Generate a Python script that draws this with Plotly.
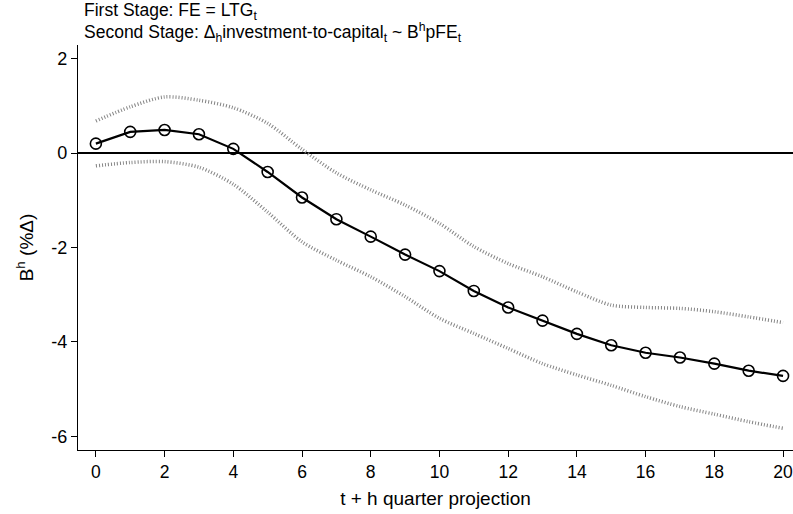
import plotly.graph_objects as go

# Horizon (quarters ahead)
horizon = list(range(21))

# Point estimates of B^h
coef = [0.20, 0.45, 0.49, 0.40, 0.09, -0.40, -0.94, -1.40, -1.77, -2.15, -2.50,
        -2.92, -3.27, -3.55, -3.83, -4.07, -4.23, -4.33, -4.46, -4.61, -4.72]

# Confidence band: upper and lower bounds
upper = [0.68, 0.98, 1.19, 1.12, 0.96, 0.63, 0.08, -0.42, -0.78, -1.10, -1.49,
         -1.98, -2.34, -2.62, -2.94, -3.22, -3.27, -3.29, -3.36, -3.47, -3.59]
lower = [-0.27, -0.20, -0.18, -0.30, -0.66, -1.25, -1.88, -2.27, -2.62, -3.04, -3.50,
         -3.82, -4.14, -4.46, -4.70, -4.92, -5.16, -5.37, -5.53, -5.69, -5.83]

# Axis ticks
x_ticks = [0, 2, 4, 6, 8, 10, 12, 14, 16, 18, 20]
y_ticks = [2, 0, -2, -4, -6]
y_tick_labels = ["2", "0", "-2", "-4", "-6"]

FONT = "Liberation Sans, Arial, Helvetica, sans-serif"
band_line = dict(color="#858585", width=3.5, dash="1px,2px", shape="spline", smoothing=0.8)

fig = go.Figure()
fig.add_trace(go.Scatter(x=horizon, y=upper, mode="lines", line=band_line,
                         hoverinfo="skip", showlegend=False))
fig.add_trace(go.Scatter(x=horizon, y=lower, mode="lines", line=band_line,
                         hoverinfo="skip", showlegend=False))
fig.add_trace(go.Scatter(
    x=horizon, y=coef, mode="lines+markers",
    line=dict(color="black", width=2.2),
    marker=dict(symbol="circle-open", size=11, color="black", line=dict(width=1.6)),
    showlegend=False,
))

fig.update_layout(
    width=793, height=514,
    margin=dict(l=78, r=0, t=45, b=64),
    paper_bgcolor="white", plot_bgcolor="white",
    font=dict(family=FONT, color="black", size=18),
    xaxis=dict(
        range=[-0.52, 20.29], tickvals=x_ticks,
        showgrid=False, zeroline=False,
        showline=True, linecolor="black", linewidth=1.2,
        ticks="outside", ticklen=6, tickwidth=1.2, tickcolor="black",
        tickfont=dict(size=17.5), ticklabeloverflow="allow",
        title=dict(text="t + h quarter projection", font=dict(size=19), standoff=10),
    ),
    yaxis=dict(
        range=[-6.29, 2.29], tickvals=y_ticks, ticktext=y_tick_labels,
        showgrid=False,
        zeroline=True, zerolinecolor="black", zerolinewidth=1.6,
        showline=True, linecolor="black", linewidth=1.2,
        ticks="outside", ticklen=6, tickwidth=1.2, tickcolor="black",
        tickfont=dict(size=18),
        title=dict(text="B<sup>h</sup> (%Δ)", font=dict(size=19), standoff=12),
    ),
    annotations=[
        dict(text="First Stage: FE = LTG<sub>t</sub>", xref="paper", yref="paper",
             x=0.005, y=1.083, xanchor="left", yanchor="middle", showarrow=False,
             font=dict(size=17.5)),
        dict(text="Second Stage: Δ<sub>h</sub>investment-to-capital<sub>t</sub> ~ B<sup>h</sup>pFE<sub>t</sub>",
             xref="paper", yref="paper",
             x=0.005, y=1.031, xanchor="left", yanchor="middle", showarrow=False,
             font=dict(size=17.5)),
    ],
)

fig.write_html("out.html")
